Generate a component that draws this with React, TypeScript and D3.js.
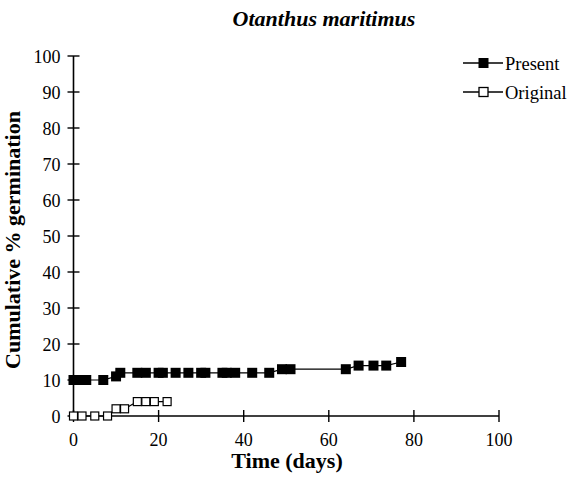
import React, { useRef, useEffect } from 'react';
import * as d3 from 'd3';

const presentDays = [0, 1, 3, 7, 10, 11, 15, 17, 20, 21, 24, 27, 30, 31, 35, 36, 38, 42, 46, 49, 51, 64, 67, 70.5, 73.5, 77];
const presentPct = [10, 10, 10, 10, 11, 12, 12, 12, 12, 12, 12, 12, 12, 12, 12, 12, 12, 12, 12, 13, 13, 13, 14, 14, 14, 15];

const originalDays = [0, 2, 5, 8, 10, 12, 15, 17, 19, 22];
const originalPct = [0, 0, 0, 0, 2, 2, 4, 4, 4, 4];

const xTicks = [0, 20, 40, 60, 80, 100];
const yTicks = [0, 10, 20, 30, 40, 50, 60, 70, 80, 90, 100];

const width = 569;
const height = 478;
const font = '"Liberation Serif", "Times New Roman", serif';

const App: React.FC = () => {
  const svgRef = useRef<SVGSVGElement>(null);

  useEffect(() => {
    if (!svgRef.current) return;
    const svg = d3.select(svgRef.current);
    svg.selectAll('*').remove();

    const x = d3.scaleLinear().domain([0, 100]).range([73.5, 499]);
    const y = d3.scaleLinear().domain([0, 100]).range([416, 56]);

    // axes
    const g = svg.append('g');
    g.append('line')
      .attr('x1', x(0)).attr('x2', x(100))
      .attr('y1', y(0)).attr('y2', y(0))
      .attr('stroke', '#000').attr('stroke-width', 1.6);
    g.append('line')
      .attr('x1', x(0)).attr('x2', x(0))
      .attr('y1', y(0)).attr('y2', y(100))
      .attr('stroke', '#000').attr('stroke-width', 1.6);

    g.selectAll('.xt').data(xTicks).enter().append('line')
      .attr('x1', d => x(d)).attr('x2', d => x(d))
      .attr('y1', y(0) - 6).attr('y2', y(0) + 6)
      .attr('stroke', '#000').attr('stroke-width', 1.4);
    g.selectAll('.xl').data(xTicks).enter().append('text')
      .attr('x', d => x(d)).attr('y', y(0) + 30)
      .attr('text-anchor', 'middle')
      .attr('font-family', font).attr('font-size', 18)
      .text(d => d);

    g.selectAll('.yt').data(yTicks).enter().append('line')
      .attr('x1', x(0) - 6).attr('x2', x(0) + 6)
      .attr('y1', d => y(d)).attr('y2', d => y(d))
      .attr('stroke', '#000').attr('stroke-width', 1.4);
    g.selectAll('.yl').data(yTicks).enter().append('text')
      .attr('x', x(0) - 13).attr('y', d => y(d) + 6.5)
      .attr('text-anchor', 'end')
      .attr('font-family', font).attr('font-size', 18)
      .text(d => d);

    // series
    const line = d3.line<[number, number]>().x(d => x(d[0])).y(d => y(d[1]));
    const present = presentDays.map((d, i) => [d, presentPct[i]] as [number, number]);
    const original = originalDays.map((d, i) => [d, originalPct[i]] as [number, number]);

    svg.append('path').datum(original).attr('d', line)
      .attr('fill', 'none').attr('stroke', '#000').attr('stroke-width', 1.2);
    svg.selectAll('.op').data(original).enter().append('rect')
      .attr('x', d => x(d[0]) - 4).attr('y', d => y(d[1]) - 4)
      .attr('width', 8).attr('height', 8)
      .attr('fill', '#fff').attr('stroke', '#000').attr('stroke-width', 1.2);

    svg.append('path').datum(present).attr('d', line)
      .attr('fill', 'none').attr('stroke', '#000').attr('stroke-width', 1.2);
    svg.selectAll('.pp').data(present).enter().append('rect')
      .attr('x', d => x(d[0]) - 5).attr('y', d => y(d[1]) - 5)
      .attr('width', 10).attr('height', 10)
      .attr('fill', '#000');

    // legend
    const legend = [
      { label: 'Present', filled: true, y: 63 },
      { label: 'Original', filled: false, y: 92 },
    ];
    legend.forEach(l => {
      svg.append('line')
        .attr('x1', 463).attr('x2', 503).attr('y1', l.y).attr('y2', l.y)
        .attr('stroke', '#000').attr('stroke-width', 1.4);
      if (l.filled) {
        svg.append('rect').attr('x', 478.5).attr('y', l.y - 5)
          .attr('width', 10).attr('height', 10).attr('fill', '#000');
      } else {
        svg.append('rect').attr('x', 479).attr('y', l.y - 4.5)
          .attr('width', 9).attr('height', 9)
          .attr('fill', '#fff').attr('stroke', '#000').attr('stroke-width', 1.3);
      }
      svg.append('text')
        .attr('x', 505).attr('y', l.y + 6.5)
        .attr('font-family', font).attr('font-size', 18.5)
        .text(l.label);
    });

    // title and axis labels
    svg.append('text')
      .attr('x', 324).attr('y', 26)
      .attr('text-anchor', 'middle')
      .attr('font-family', font).attr('font-size', 22)
      .attr('font-weight', 'bold').attr('font-style', 'italic')
      .text('Otanthus maritimus');

    svg.append('text')
      .attr('x', 287).attr('y', 468)
      .attr('text-anchor', 'middle')
      .attr('font-family', font).attr('font-size', 22)
      .attr('font-weight', 'bold')
      .text('Time (days)');

    svg.append('text')
      .attr('transform', `translate(20, 240) rotate(-90)`)
      .attr('text-anchor', 'middle')
      .attr('font-family', font).attr('font-size', 22)
      .attr('font-weight', 'bold')
      .text('Cumulative % germination');
  }, []);

  return (
    <div style={{ position: 'absolute', left: 0, top: 0 }}>
      <svg ref={svgRef} width={width} height={height} style={{ display: 'block', background: '#fff' }} />
    </div>
  );
};

export default App;
